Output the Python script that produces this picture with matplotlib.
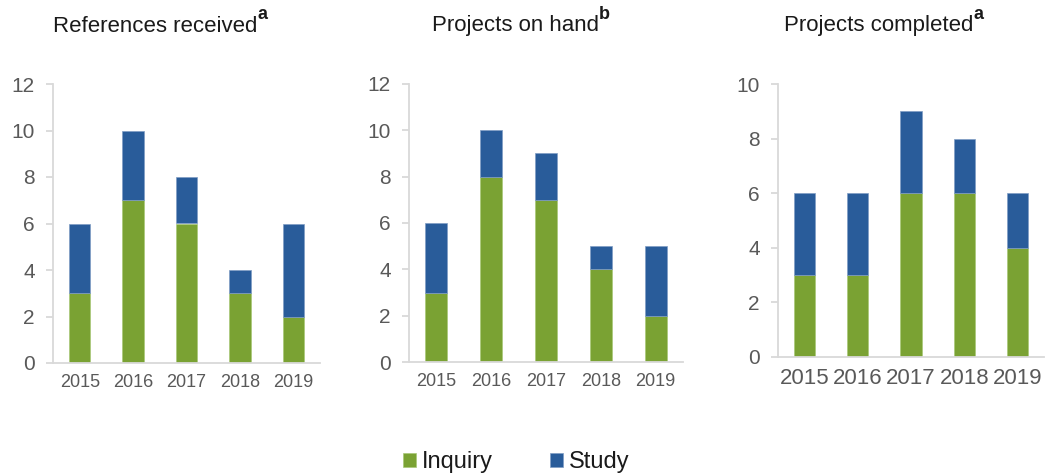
import numpy as np
import matplotlib.pyplot as plt

plt.rcParams['font.family'] = ['Liberation Sans', 'DejaVu Sans']

years = ["2015", "2016", "2017", "2018", "2019"]

received_inquiry = [3, 7, 6, 3, 2]
received_study = [3, 3, 2, 1, 4]
onhand_inquiry = [3, 8, 7, 4, 2]
onhand_study = [3, 2, 2, 1, 3]
completed_inquiry = [3, 3, 6, 6, 4]
completed_study = [3, 3, 3, 2, 2]

green = "#7aa233"
blue = "#295c9a"
axis_grey = "#d9d9d9"
text_grey = "#595959"

W, H = 1046, 476
fig = plt.figure(figsize=(W / 100, H / 100), dpi=100)

def px_axes(left, right, top, bottom):
    return fig.add_axes([left / W, 1 - bottom / H, (right - left) / W, (bottom - top) / H])

panels = [
    (px_axes(53, 320, 84, 363), received_inquiry, received_study, 12, 2,
     "References received", "a", 155, 15, 13),
    (px_axes(409, 683, 84, 362), onhand_inquiry, onhand_study, 12, 2,
     "Projects on hand", "b", 515, 15, 13),
    (px_axes(778, 1044, 84, 357), completed_inquiry, completed_study, 10, 2,
     "Projects completed", "a", 879, 15, 16),
]

x = np.arange(len(years))
for ax, inq, stu, ymax, step, title, sup, tx, yfs, xfs in panels:
    ax.bar(x, inq, width=0.4, color=green, edgecolor="#a8c878", linewidth=0.5, label="Inquiry")
    ax.bar(x, stu, width=0.4, bottom=inq, color=blue, edgecolor="#7f9cc4", linewidth=0.5, label="Study")
    ax.set_ylim(0, ymax)
    ax.set_xlim(-0.5, len(years) - 0.5)
    ax.set_yticks(np.arange(0, ymax + 1, step))
    ax.set_xticks(x)
    ax.set_xticklabels(years)
    for s in ["top", "right"]:
        ax.spines[s].set_visible(False)
    for s in ["left", "bottom"]:
        ax.spines[s].set_color(axis_grey)
        ax.spines[s].set_linewidth(1.3)
    ax.tick_params(axis="y", colors=axis_grey, length=5, width=1.3, labelsize=yfs,
                   labelcolor=text_grey, pad=8)
    ax.tick_params(axis="x", length=0, labelsize=xfs, labelcolor=text_grey, pad=8)
    t = fig.text(tx / W, 1 - 26 / H, title, ha="center", va="center", fontsize=16, color="#1a1a1a")
    ax.annotate(sup, xy=(1, 0.62), xycoords=t, ha="left", va="bottom",
                fontsize=13, fontweight="bold", color="#1a1a1a")

handles, labels = panels[0][0].get_legend_handles_labels()
fig.legend(handles, labels, loc="center", bbox_to_anchor=(516 / W, 1 - 462 / H), ncol=2,
           frameon=False, fontsize=17, handlelength=0.55, handleheight=0.55,
           handletextpad=0.25, columnspacing=2.4, labelcolor="#1a1a1a")

fig.savefig("out.png", dpi=100)
